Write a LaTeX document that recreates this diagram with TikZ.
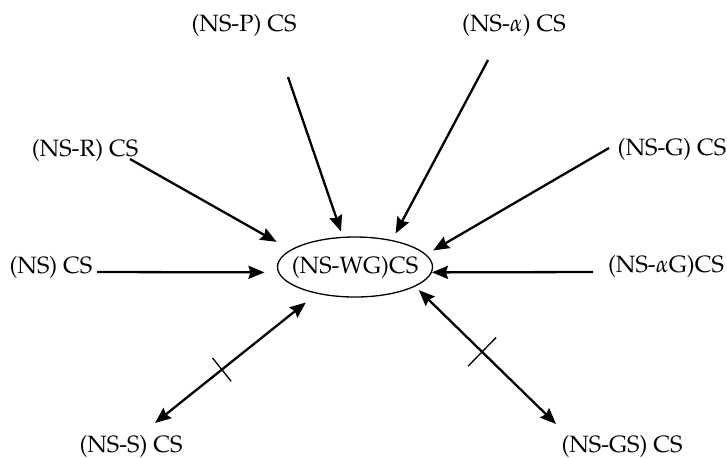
\documentclass[tikz,border=0pt]{standalone}
\usepackage[T1]{fontenc}
\usepackage{tikz, mathpazo}
\usetikzlibrary{arrows.meta, shapes.geometric, calc}

\begin{document}
\begin{tikzpicture}[x=0.5pt, y=-0.5pt, >={Stealth[length=8pt, width=6.5pt, inset=1pt]}]
\tikzstyle{cs}=[inner sep=0pt, font=\fontsize{11.8}{14}\selectfont]
\tikzstyle{centre}=[cs, ellipse, draw, line width=0.65pt, inner xsep=-5pt, minimum width=77.5pt, minimum height=30pt]
\tikzstyle{link}=[line width=1.15pt, ->]
\tikzstyle{twoway}=[line width=1.15pt, <->]
\tikzstyle{crossbar}=[line width=0.65pt]

\useasboundingbox (0,0) rectangle (727,457);

\node[centre] (wg) at (355,267) {(NS-WG)CS};

\node[cs] (p) at (244,25) {(NS-P) CS};
\node[cs] (a) at (514,25) {(NS-$\alpha$) CS};
\node[cs] (r) at (85,150) {(NS-R) CS};
\node[cs] (g) at (672,149) {(NS-G) CS};
\node[cs] (ns) at (51,267) {(NS) CS};
\node[cs] (ag) at (666,266) {(NS-$\alpha$G)CS};
\node[cs] (s) at (131,446) {(NS-S) CS};
\node[cs] (gs) at (622,446) {(NS-GS) CS};

% where the arrows leave the labels
\coordinate (p0) at (288,77);
\coordinate (a0) at (488,60);
\coordinate (r0) at (130,159);
\coordinate (g0) at (609,148);
\coordinate (ns0) at (97,272);
\coordinate (ag0) at (593,272);
\coordinate (s0) at (155,423);
\coordinate (gs0) at (556,424);

\draw[link, shorten >=2.8pt] (p0) -- (wg.112);
\draw[link, shorten >=3.7pt] (a0) -- (wg.36);
\draw[link, shorten >=8pt] (r0) -- (wg.165);
\draw[link, shorten >=4pt] (g0) -- (wg.10);
\draw[link, shorten >=6.8pt] (ns0) -- (wg.184);
\draw[link] (ag0) -- (wg.-4);
\draw[twoway, shorten <=7pt] (wg.215) -- (s0) coordinate[pos=0.587] (sx);
\draw[twoway, shorten <=2.5pt] (wg.-18) -- (gs0) coordinate[pos=0.475] (gx);

% cross marks on the two-way links
\draw[crossbar] ($(sx)!7.5pt!90:(s0)$) -- ($(sx)!7.5pt!-90:(s0)$);
\draw[crossbar] ($(gx)!10pt!90:(gs0)$) -- ($(gx)!10pt!-90:(gs0)$);

\end{tikzpicture}
\end{document}
